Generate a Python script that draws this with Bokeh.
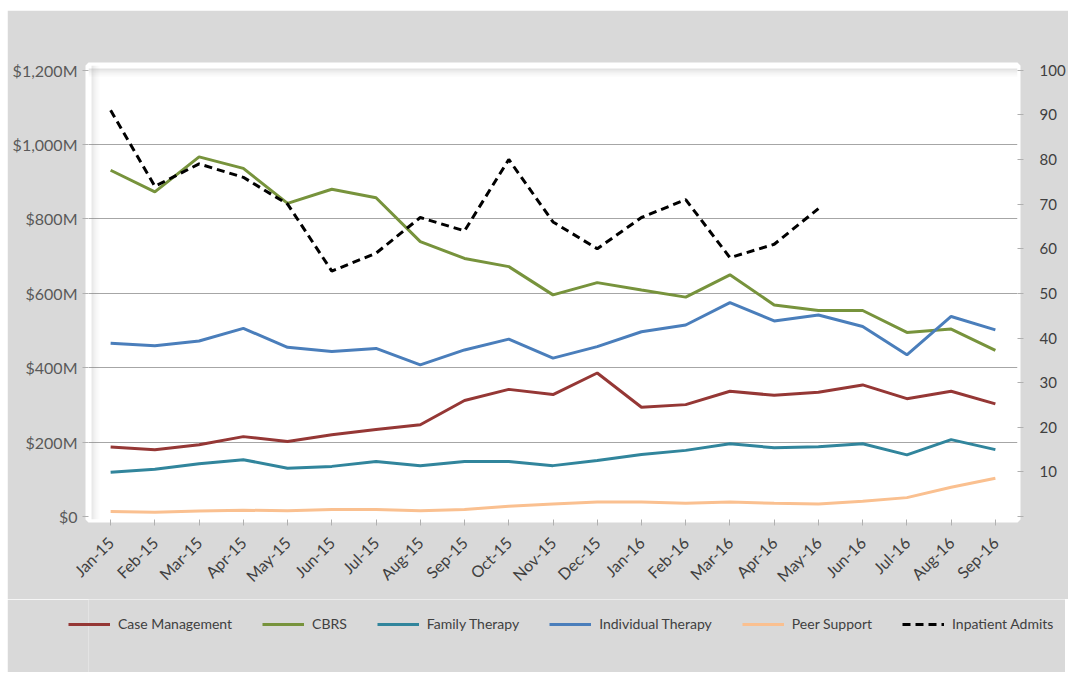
from bokeh.plotting import figure
from bokeh.models import (Range1d, LinearAxis, FixedTicker, Legend, LegendItem,
                          BoxAnnotation)
from bokeh.layouts import column
from bokeh.embed import file_html
from bokeh.resources import INLINE
import math

months = ["Jan-15", "Feb-15", "Mar-15", "Apr-15", "May-15", "Jun-15", "Jul-15",
          "Aug-15", "Sep-15", "Oct-15", "Nov-15", "Dec-15", "Jan-16", "Feb-16",
          "Mar-16", "Apr-16", "May-16", "Jun-16", "Jul-16", "Aug-16", "Sep-16"]

case_management = [187, 180, 193, 215, 202, 220, 234, 247, 312, 342, 328, 386, 294,
                   301, 337, 326, 334, 354, 317, 337, 303]
cbrs = [931, 873, 967, 936, 842, 880, 857, 739, 694, 672, 596, 629, 609, 590, 650,
        569, 554, 554, 495, 504, 447]
family_therapy = [119, 127, 142, 153, 130, 135, 148, 137, 148, 148, 137, 151, 167,
                  178, 196, 185, 188, 196, 166, 207, 180]
individual_therapy = [466, 459, 472, 506, 455, 444, 452, 408, 448, 477, 426, 457,
                      497, 515, 575, 526, 542, 511, 435, 538, 502]
peer_support = [14, 12, 15, 17, 16, 19, 19, 16, 19, 28, 34, 39, 39, 36, 39, 36, 34,
                41, 51, 79, 103]
inpatient_admits = [91, 74, 79, 76, 70, 55, 59, 67, 64, 80, 66, 60, 67, 71, 58, 61, 69]

left_ticks = [0, 200, 400, 600, 800, 1000, 1200]
left_labels = ["$0", "$200M", "$400M", "$600M", "$800M", "$1,000M", "$1,200M"]
right_ticks = [0, 10, 20, 30, 40, 50, 60, 70, 80, 90, 100]

series_names = ["Case Management", "CBRS", "Family Therapy", "Individual Therapy",
                "Peer Support", "Inpatient Admits"]
series_colors = ["#953735", "#77933c", "#31859c", "#4a7ebb", "#fac090", "black"]
series_values = [case_management, cbrs, family_therapy, individual_therapy,
                 peer_support, inpatient_admits]

FONT = "Lato"
TXT = "#404040"
BG = "#d9d9d9"
W = 3
DASH = "8 5"

Y0, Y1 = -7.8, 1212.6
p = figure(frame_width=929, frame_height=454, x_range=months,
           y_range=Range1d(Y0, Y1),
           output_backend="svg", toolbar_location=None,
           min_border_left=81, min_border_right=48, min_border_top=55,
           min_border_bottom=80)
p.margin = (10, 0, 0, 7)
p.border_fill_color = BG
p.background_fill_color = "white"
p.outline_line_color = "white"
p.outline_line_width = 6

p.extra_y_ranges = {"admits": Range1d(-0.65, 101.05)}

# soft inner shadow along the top and left edges of the plot box
upp_y = (Y1 - Y0) / 454.0
upp_x = 21.0 / 929.0
for i, a in enumerate([0.22, 0.14, 0.08, 0.04]):
    p.add_layout(BoxAnnotation(top=Y1 - upp_y * (3 + 2 * i), bottom=Y1 - upp_y * (5 + 2 * i),
                               fill_color="#808080", fill_alpha=a, line_color=None,
                               level="underlay"))
    p.add_layout(BoxAnnotation(left=upp_x * (3 + 2 * i), right=upp_x * (5 + 2 * i),
                               fill_color="#808080", fill_alpha=a * 0.8, line_color=None,
                               level="underlay"))

# grid
p.xgrid.grid_line_color = None
p.ygrid.grid_line_color = "#a6a6a6"
p.ygrid.grid_line_width = 1
p.ygrid.ticker = FixedTicker(ticks=[200, 400, 600, 800, 1000])

# left axis
ya = p.yaxis[0]
ya.ticker = FixedTicker(ticks=left_ticks)
ya.major_label_overrides = {t: l for t, l in zip(left_ticks, left_labels)}
ya.axis_line_color = None
ya.major_tick_line_color = "#b0b0b0"
ya.major_tick_out = 6
ya.major_tick_in = 0
ya.minor_tick_line_color = None
ya.major_label_standoff = 5
ya.major_label_text_font = FONT
ya.major_label_text_font_size = "16px"
ya.major_label_text_color = "#595959"

# right axis
ra = LinearAxis(y_range_name="admits")
ra.ticker = FixedTicker(ticks=right_ticks)
ra.major_label_overrides = {0: ""}
ra.axis_line_color = None
ra.major_tick_line_color = "#b0b0b0"
ra.major_tick_out = 6
ra.major_tick_in = 0
ra.minor_tick_line_color = None
ra.major_label_standoff = 16
ra.major_label_text_font = FONT
ra.major_label_text_font_size = "15px"
ra.major_label_text_color = TXT
p.add_layout(ra, "right")

# x axis
xa = p.xaxis[0]
xa.axis_line_color = None
xa.major_tick_line_color = "#b0b0b0"
xa.major_tick_out = 6
xa.major_tick_in = 0
xa.major_label_orientation = math.pi / 4
xa.major_label_standoff = 14
xa.major_label_text_font = FONT
xa.major_label_text_font_size = "16px"
xa.major_label_text_color = TXT

for name, col, vals in zip(series_names, series_colors, series_values):
    if name == "Inpatient Admits":
        p.line(months[:len(vals)], vals, line_color=col, line_width=W,
               line_dash=DASH, y_range_name="admits")
    else:
        p.line(months, vals, line_color=col, line_width=W)

# legend strip below the chart (its series lie outside its visible range)
lg = figure(frame_width=1058, frame_height=73, output_backend="svg",
            toolbar_location=None, min_border=0, x_range=months,
            y_range=Range1d(5000, 5001),
            x_axis_location=None, y_axis_location=None)
lg.margin = (0, 0, 0, 7)
lg.border_fill_color = BG
lg.background_fill_color = BG
lg.outline_line_color = None
lg.grid.grid_line_color = None
items = []
for name, col, vals in zip(series_names, series_colors, series_values):
    dash = DASH if name == "Inpatient Admits" else "solid"
    r = lg.line(months[:len(vals)], vals, line_color=col, line_width=W, line_dash=dash)
    items.append(LegendItem(label=name, renderers=[r]))

legend = Legend(items=items, orientation="horizontal", location=(61, 40))
legend.background_fill_alpha = 0
legend.border_line_color = None
legend.glyph_width = 42
legend.glyph_height = 14
legend.label_standoff = 8
legend.spacing = 30
legend.margin = 0
legend.padding = 4
legend.label_text_font = FONT
legend.label_text_font_size = "14px"
legend.label_text_color = TXT
lg.add_layout(legend)

layout = column(p, lg, spacing=0)
open("out.html", "w").write(file_html(layout, INLINE))
